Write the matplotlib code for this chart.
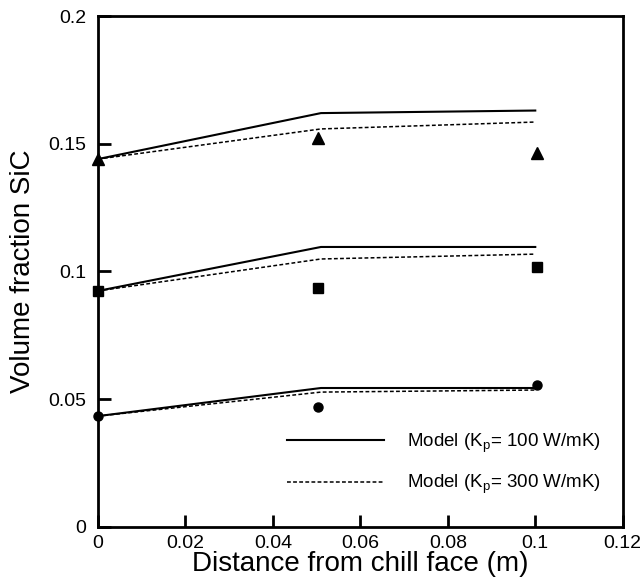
import matplotlib
matplotlib.use("Agg")
import matplotlib.pyplot as plt

plt.rcParams['font.family'] = ['Liberation Sans', 'DejaVu Sans']
plt.rcParams['mathtext.fontset'] = 'custom'
plt.rcParams['mathtext.rm'] = 'Liberation Sans'
plt.rcParams['mathtext.it'] = 'Liberation Sans'

# model curves (x in m)
x_model = [0.0, 0.051, 0.1]
top_100 = [0.144, 0.162, 0.163]
top_300 = [0.144, 0.1558, 0.1585]
mid_100 = [0.0924, 0.1096, 0.1096]
mid_300 = [0.0924, 0.1049, 0.1068]
low_100 = [0.0434, 0.0544, 0.0544]
low_300 = [0.0434, 0.0528, 0.0536]

# measured points
x_meas = [0.0, 0.0503, 0.1003]
tri_meas = [0.144, 0.1523, 0.1464]
sq_meas = [0.0924, 0.0935, 0.1018]
circ_meas = [0.0434, 0.047, 0.0556]

xticks = [0, 0.02, 0.04, 0.06, 0.08, 0.1, 0.12]
xticklabels = ['0', '0.02', '0.04', '0.06', '0.08', '0.1', '0.12']
yticks = [0, 0.05, 0.1, 0.15, 0.2]
yticklabels = ['0', '0.05', '0.1', '0.15', '0.2']

fig = plt.figure(figsize=(6.44, 5.8), dpi=100)
ax = fig.add_axes([0.152, 0.0914, 0.815, 0.881])

dash = (0, (2.5, 1.5))
l1, = ax.plot(x_model, top_100, color='black', linewidth=1.5,
              label='Model (K$_\\mathrm{p}$= 100 W/mK)')
l2, = ax.plot(x_model, top_300, color='black', linewidth=1.1, linestyle=dash,
              label='Model (K$_\\mathrm{p}$= 300 W/mK)')
ax.plot(x_model, mid_100, color='black', linewidth=1.5)
ax.plot(x_model, mid_300, color='black', linewidth=1.1, linestyle=dash)
ax.plot(x_model, low_100, color='black', linewidth=1.5)
ax.plot(x_model, low_300, color='black', linewidth=1.1, linestyle=dash)

ax.plot(x_meas, tri_meas, linestyle='none', marker='^', color='black', markersize=8.5, clip_on=False)
ax.plot(x_meas, sq_meas, linestyle='none', marker='s', color='black', markersize=6.5, clip_on=False)
ax.plot(x_meas, circ_meas, linestyle='none', marker='o', color='black', markersize=6.5, clip_on=False)

ax.set_xlim(0, 0.12)
ax.set_ylim(0, 0.2)
ax.set_xticks(xticks)
ax.set_xticklabels(xticklabels)
ax.set_yticks(yticks)
ax.set_yticklabels(yticklabels)
ax.tick_params(direction='in', length=9, width=2, labelsize=14)
ax.tick_params(axis='x', pad=6)
ax.tick_params(axis='y', pad=8.5)
for s in ax.spines.values():
    s.set_linewidth(2)

ax.set_xlabel('Distance from chill face (m)', fontsize=20, labelpad=-1)
ax.set_ylabel('Volume fraction SiC', fontsize=20, labelpad=9)

ax.legend(handles=[l1, l2], loc='lower right', bbox_to_anchor=(0.972, 0.045),
          borderaxespad=0, frameon=False, fontsize=13.5, handlelength=5.2,
          handletextpad=1.2, labelspacing=1.0)

plt.savefig('out.png', dpi=100)
